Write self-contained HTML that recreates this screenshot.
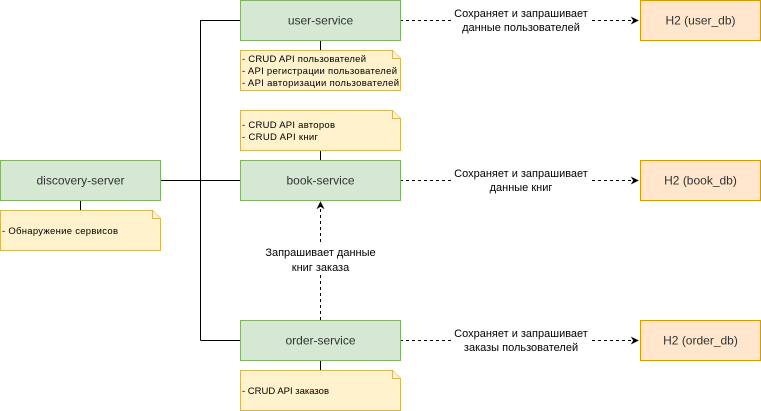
<!DOCTYPE html>
<html><head><meta charset="utf-8"><style>html,body{margin:0;padding:0;background:#fff}svg{display:block}</style></head>
<body>
<svg width="761" height="411" viewBox="0 0 761 411" xmlns="http://www.w3.org/2000/svg" font-family="Liberation Sans, sans-serif">
<defs>
<marker id="a" viewBox="0 0 10 10" refX="9" refY="5" markerWidth="8" markerHeight="8" orient="auto" markerUnits="userSpaceOnUse"><path d="M0,0 L10,5 L0,10 L3,5 Z" fill="#000"/></marker>
</defs>
<g stroke="#000" stroke-width="1" fill="none">
<path d="M200.5,340.5 V20.5 H240"/>
<path d="M160,180.5 H240"/>
<path d="M200.5,340.5 H240"/>
<path d="M320.5,40 V50"/>
<path d="M320.5,150 V160"/>
<path d="M320.5,360 V370"/>
<path d="M80.5,200 V210"/>
</g>
<g stroke="#000" stroke-width="1" stroke-dasharray="3,3" fill="none">
<path d="M400,20.5 H638" marker-end="url(#a)"/>
<path d="M400,180.5 H638" marker-end="url(#a)"/>
<path d="M400,340.5 H638" marker-end="url(#a)"/>
<path d="M320.5,320 V202" marker-end="url(#a)"/>
</g>
<g fill="#d5e8d4" stroke="#82b366">
<rect x="240.5" y="0.5" width="160" height="40"/>
<rect x="240.5" y="160.5" width="160" height="40"/>
<rect x="240.5" y="320.5" width="160" height="40"/>
<rect x="0.5" y="160.5" width="160" height="40"/>
</g>
<g fill="#ffe6cc" stroke="#d79b00">
<rect x="640.5" y="0.5" width="120" height="40"/>
<rect x="640.5" y="160.5" width="120" height="40"/>
<rect x="640.5" y="320.5" width="120" height="40"/>
</g>
<g fill="#fff2cc" stroke="#d6b656">
<path d="M240.5,50.5 H392.5 L400.5,58.5 V90.5 H240.5 Z"/>
<path d="M240.5,110.5 H392.5 L400.5,118.5 V150.5 H240.5 Z"/>
<path d="M240.5,370.5 H392.5 L400.5,378.5 V410.5 H240.5 Z"/>
<path d="M0.5,210.5 H152.5 L160.5,218.5 V250.5 H0.5 Z"/>
<path d="M392.5,50.5 V58.5 H400.5 M392.5,110.5 V118.5 H400.5 M392.5,370.5 V378.5 H400.5 M152.5,210.5 V218.5 H160.5"/>
</g>
<g fill="#333" font-size="12" text-anchor="middle">
<text x="320.5" y="24.5">user-service</text>
<text x="320.5" y="184.5">book-service</text>
<text x="320.5" y="344.5">order-service</text>
<text x="80.5" y="184.5">discovery-server</text>
<text x="700.5" y="24.5">H2 (user_db)</text>
<text x="700.5" y="184.5">H2 (book_db)</text>
<text x="700.5" y="344.5">H2 (order_db)</text>
</g>
<g fill="#000" font-size="11" text-anchor="middle">
<rect x="452" y="6" width="138" height="28" fill="#fff"/>
<text x="521" y="17">Сохраняет и запрашивает</text>
<text x="521" y="31">данные пользователей</text>
<rect x="452" y="166" width="138" height="28" fill="#fff"/>
<text x="521" y="177">Сохраняет и запрашивает</text>
<text x="521" y="191">данные книг</text>
<rect x="452" y="326" width="138" height="28" fill="#fff"/>
<text x="521" y="337">Сохраняет и запрашивает</text>
<text x="521" y="351">заказы пользователей</text>
<rect x="262" y="244" width="116" height="30" fill="#fff"/>
<text x="320.5" y="256">Запрашивает данные</text>
<text x="320.5" y="271">книг заказа</text>
</g>
<g fill="#000" font-size="9.5">
<text x="242" y="62" textLength="124">- CRUD API пользователей</text>
<text x="242" y="74" textLength="155">- API регистрации пользователей</text>
<text x="242" y="86" textLength="157">- API авторизации пользователей</text>
<text x="242" y="128" textLength="93">- CRUD API авторов</text>
<text x="242" y="140" textLength="76">- CRUD API книг</text>
<text x="242" y="394" textLength="87">- CRUD API заказов</text>
<text x="2" y="234" textLength="116">- Обнаружение сервисов</text>
</g>
</svg>
</body></html>
